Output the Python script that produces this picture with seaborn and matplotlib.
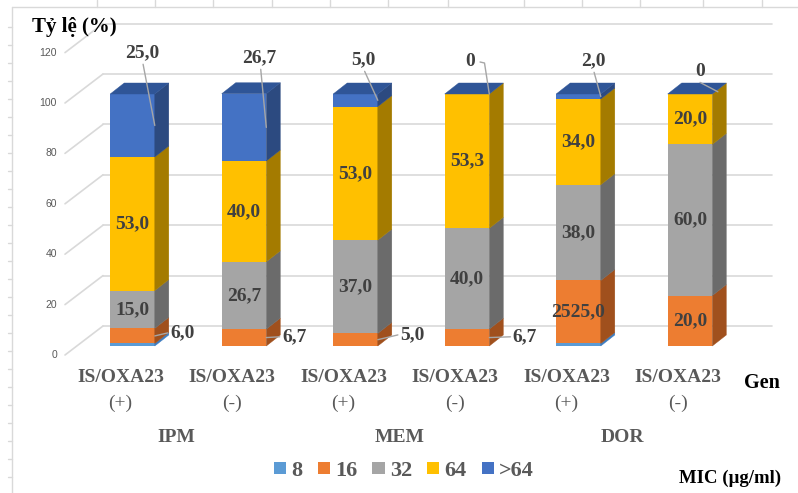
import matplotlib
matplotlib.use("Agg")
import matplotlib.pyplot as plt
from matplotlib.lines import Line2D
from matplotlib.patches import Patch
import numpy as np
import seaborn as sns

# ---- data -------------------------------------------------------------
drugs = ["IPM", "MEM", "DOR"]
bar_keys = ["IPM +", "IPM -", "MEM +", "MEM -", "DOR +", "DOR -"]
gene_name = "IS/OXA23"
gene_status = ["(+)", "(-)", "(+)", "(-)", "(+)", "(-)"]
mic_levels = ["8", "16", "32", "64", ">64"]
mic_8 = [1.0, 0.0, 0.0, 0.0, 1.0, 0.0]
mic_16 = [6.0, 6.7, 5.0, 6.7, 25.0, 20.0]
mic_32 = [15.0, 26.7, 37.0, 40.0, 38.0, 60.0]
mic_64 = [53.0, 40.0, 53.0, 53.3, 34.0, 20.0]
mic_gt64 = [25.0, 26.7, 5.0, 0.0, 2.0, 0.0]
labels_16 = ["6,0", "6,7", "5,0", "6,7", "2525,0", "20,0"]
y_ticks = [0, 20, 40, 60, 80, 100, 120]

front_colors = ["#5B9BD5", "#ED7D31", "#A5A5A5", "#FFC000", "#4472C4"]
side_colors = ["#3D7CC0", "#A0501D", "#6B6B6B", "#A47B00", "#2C4A80"]
top_color = "#2F5597"
label_color = "#404040"
axis_text = "#595959"
grid_color = "#D9D9D9"
SERIF = "Liberation Serif"


def fmt(v):
    return "0" if v == 0 else f"{v:.1f}".replace(".", ",")


# ---- canvas: one axes over the whole figure, mapped to pixels ---------
W, H = 798, 493
X0, XS = 132.5, 111.5      # pixel x of first bar centre, pixels per category
Y0, YS = 346.0, 2.52       # pixel y of value 0 (front plane), pixels per unit
BAR_W = 0.4
DX, DY = 14 / XS, 11 / YS  # depth of the 3-D columns
WALL = 20 / YS             # back wall lies above the front plane
FLOOR = 9 / YS             # tick labels sit below the front plane

sns.set_theme(style="white")
fig = plt.figure(figsize=(W / 100, H / 100), dpi=100)
ax = fig.add_axes([0, 0, 1, 1])


def dx_(px):
    return (px - X0) / XS


def fx(px):
    return px / W


def fy(py):
    return 1 - py / H


# ---- stacked columns (front faces) ------------------------------------
stack = np.array([mic_8, mic_16, mic_32, mic_64, mic_gt64])
cum = np.cumsum(stack, axis=0)
for k in reversed(range(len(mic_levels))):
    sns.barplot(x=bar_keys, y=cum[k], color=front_colors[k], width=BAR_W,
                saturation=1, errorbar=None, linewidth=0, ax=ax, zorder=3)

ax.set_xlim(dx_(0), dx_(W))
ax.set_ylim((Y0 - H) / YS, Y0 / YS)
ax.axis("off")

# ---- side and top faces -----------------------------------------------
for i in range(len(bar_keys)):
    xr = i + BAR_W / 2
    xl = i - BAR_W / 2
    for k in range(len(mic_levels)):
        b = cum[k - 1][i] if k > 0 else 0.0
        t = cum[k][i]
        if t > b:
            ax.fill([xr, xr + DX, xr + DX, xr], [b, b + DY, t + DY, t],
                    color=side_colors[k], lw=0.3, zorder=3)
    T = cum[-1][i]
    ax.fill([xl, xr, xr + DX, xl + DX], [T, T, T + DY, T + DY],
            color=top_color, lw=0.3, zorder=3)

# ---- back wall gridlines, side wall and value axis --------------------
for v in y_ticks:
    ax.plot([dx_(103), dx_(772)], [v + WALL, v + WALL], color=grid_color,
            lw=1.2, zorder=1)
    ax.plot([dx_(65), dx_(103)], [v - FLOOR, v + WALL], color=grid_color,
            lw=1.2, zorder=1)
    ax.text(dx_(57), v - FLOOR, str(v), ha="right", va="center",
            fontsize=7.5, color=axis_text, family="Liberation Sans")

# ---- data labels --------------------------------------------------------
lab_kw = dict(ha="center", va="center", family=SERIF, weight="bold",
              fontsize=14, color=label_color, zorder=6)
leader_kw = dict(color="#A6A6A6", lw=1.0, zorder=5)

for i in range(len(bar_keys)):
    # 32 and 64 inside their segments
    for k in (2, 3):
        b, t = cum[k - 1][i], cum[k][i]
        ax.text(i, (b + t) / 2, fmt(stack[k][i]), **lab_kw)

# 16: inside for DOR, to the right with a leader for IPM / MEM
out_left = [0.336, 0.34, 0.40, 0.41]
out_rise = [1.2, 0.3, 1.9, 0.3]
for i in range(len(bar_keys)):
    b, t = cum[0][i], cum[1][i]
    mid = (b + t) / 2
    if i < len(out_left):
        ly = mid + out_rise[i]
        ax.plot([i + BAR_W / 2, i + out_left[i] - 0.02], [mid, ly], **leader_kw)
        ax.text(i + out_left[i], ly, labels_16[i],
                **{**lab_kw, "ha": "left"})
    else:
        ax.text(i, mid, labels_16[i], **lab_kw)

# >64: above the columns with leaders
top_dx = [0.085, 0.14, 0.072, 0.027, 0.13, 0.09]
top_y = [116.3, 114.3, 113.5, 112.7, 113.1, 109.1]
for i in range(len(bar_keys)):
    b, t = cum[3][i], cum[4][i]
    end_y = (b + t) / 2 if t > b else t
    lx, ly = i + top_dx[i], top_y[i]
    if t > b:
        ax.plot([lx + 0.01, i + BAR_W / 2], [ly - 4.5, end_y], **leader_kw)
    elif i == 3:
        ax.plot([lx + 0.09, lx + 0.13, i + BAR_W / 2],
                [ly, ly - 0.4, end_y], **leader_kw)
    else:
        ax.plot([lx, i + BAR_W / 2 + DX * 0.4], [ly - 4.5, end_y + DY * 0.2],
                **leader_kw)
    ax.text(lx, ly, fmt(mic_gt64[i]), **lab_kw)

# ---- category / group / axis titles ------------------------------------
for i in range(len(bar_keys)):
    cx = X0 + i * XS - 12
    fig.text(fx(cx), fy(378), gene_name, ha="center", va="center",
             family=SERIF, weight="bold", fontsize=14, color=axis_text)
    fig.text(fx(cx), fy(403), gene_status[i], ha="center", va="center",
             family=SERIF, fontsize=14, color=axis_text)
for g, name in enumerate(drugs):
    cx = X0 + (2 * g + 0.5) * XS - 12
    fig.text(fx(cx), fy(437), name, ha="center", va="center",
             family=SERIF, weight="bold", fontsize=14, color=axis_text)

fig.text(fx(32), fy(27), "Tỷ lệ (%)", ha="left", va="center",
         family=SERIF, weight="bold", fontsize=15, color="black")
fig.text(fx(762), fy(383), "Gen", ha="center", va="center",
         family=SERIF, weight="bold", fontsize=14.5, color="black")
fig.text(fx(730), fy(478), "MIC (µg/ml)", ha="center", va="center",
         family=SERIF, weight="bold", fontsize=13.5, color="black")

# ---- legend ---------------------------------------------------------------
handles = [Patch(facecolor=c, edgecolor="none") for c in front_colors]
leg = fig.legend(handles, mic_levels, ncol=5, frameon=False,
                 loc="center", bbox_to_anchor=(fx(404), fy(471)),
                 prop={"family": SERIF, "weight": "bold", "size": 16},
                 labelcolor=axis_text, handlelength=0.55, handleheight=0.5,
                 handletextpad=0.23, columnspacing=0.68, borderpad=0)

# ---- sheet border with cell ticks ----------------------------------------
border_kw = dict(color=grid_color, lw=1.0, transform=fig.transFigure)
fig.add_artist(Line2D([fx(12), fx(W)], [fy(7), fy(7)], **border_kw))
fig.add_artist(Line2D([fx(12), fx(12)], [fy(7), fy(H)], **border_kw))
for tx in [97, 155, 213, 272, 330, 388, 448, 524, 582, 640, 703, 762]:
    fig.add_artist(Line2D([fx(tx), fx(tx)], [fy(0), fy(7)], **border_kw))
for ty in np.arange(27, H, 18):
    fig.add_artist(Line2D([fx(8), fx(12)], [fy(ty), fy(ty)], **border_kw))

fig.savefig("out.png", dpi=100)
